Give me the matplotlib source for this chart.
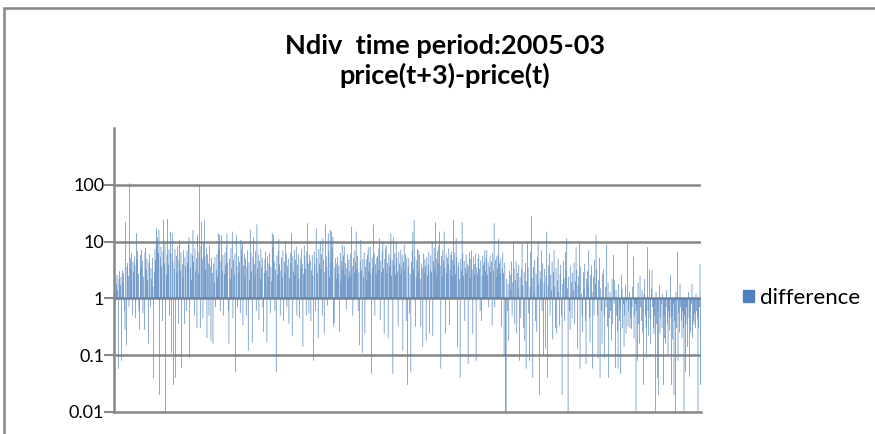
import matplotlib.pyplot as plt
import numpy as np
from matplotlib.patches import Patch, Rectangle

# values, left to right, in six chunks
part1 = [1.5, 2.1, 0.8, 1.8, 2.6, 1.4, 0.058, 2.2, 3.0, 1.7,
         2.4, 0.08, 3.1, 1.9, 2.8, 0.6, 0.28, 22, 0.15, 3.6,
         4.2, 2.5, 0.7, 107, 5.1, 3.3, 6.2, 0.5, 4.4, 2.9,
         5.5, 3.8, 0.45, 14, 4.9, 6.8, 2.7, 0.6, 0.28, 5.8,
         3.5, 7.1, 4.6, 0.55, 2.4, 0.28, 6.4, 7.8, 3.2, 5.0,
         2.1, 0.16, 4.3, 6.0, 0.7, 3.4, 2.2, 5.2, 1.6, 0.04,
         3.0, 7.5, 4.8, 17, 9.2, 12, 6.3, 16, 0.02, 5.4,
         8.1, 3.6, 0.4, 6.7, 24, 4.1, 9.8, 0.01, 2.6, 5.9,
         25, 3.9, 7.2, 0.5, 15, 6.1, 0.11, 14, 4.5, 0.03,
         3.3, 7.4, 0.04, 5.6, 2.8, 8.3, 0.35, 4.7, 10.7, 3.1,
         6.5, 0.06, 4.0, 2.4, 7.0, 0.35, 5.3, 3.7, 0.6, 6.9,
         4.2, 8.8, 12, 0.09, 3.5, 6.2, 2.1, 5.7, 16, 4.4,
         0.5, 7.6, 3.0, 5.1, 0.3, 13, 2.7, 6.6, 100, 0.3,
         8.4, 22, 4.9, 0.45, 9.1, 24, 5.5, 3.2, 7.9, 0.2,
         6.0, 4.1, 0.5, 8.6, 3.6, 0.18, 5.2]
part2 = [2.8, 0.16, 4.1, 1.9, 5.3, 0.7, 3.2, 6.0, 2.4, 14,
         7.2, 13, 0.6, 4.5, 13, 3.1, 5.8, 0.5, 2.7, 6.4,
         3.9, 8.0, 14, 4.2, 0.6, 0.16, 5.0, 2.2, 7.7, 3.4,
         15, 0.45, 4.8, 2.6, 6.1, 0.05, 13, 3.7, 0.7, 5.6,
         2.9, 4.4, 0.55, 10.7, 7.3, 10, 0.34, 3.8, 6.2, 2.3,
         5.1, 0.5, 3.6, 7.0, 0.12, 4.3, 2.1, 16, 6.5, 3.0,
         0.17, 5.4, 12, 4.0, 2.5, 6.8, 0.6, 20, 3.3, 5.9,
         0.42, 4.6, 2.2, 7.4, 3.5, 5.2, 0.7, 0.26, 2.8, 4.9,
         6.6, 3.1, 0.17, 5.5, 2.4, 4.1, 6.3, 0.55, 3.6, 2.0,
         14, 7.8, 13, 4.4, 0.6, 3.2, 0.05, 5.7, 2.6, 6.9,
         11, 4.0, 0.5, 3.1, 5.3, 2.4, 7.0, 0.4, 4.5, 2.8,
         10, 6.1, 0.7, 3.7, 5.0, 0.36, 2.3, 6.4, 4.2, 14,
         0.22, 5.5, 3.0, 7.1, 2.6, 4.8, 8.2, 0.5, 3.9, 6.0,
         2.2, 0.45, 5.1, 3.4, 7.5, 4.0, 0.14, 2.7, 8.6, 5.6,
         3.3, 0.5, 6.8, 21, 4.1, 0.54, 5.9]
part3 = [4.6, 0.4, 3.1, 5.8, 2.5, 0.08, 6.7, 3.9, 0.6, 17,
         5.2, 2.8, 0.2, 7.4, 4.1, 10, 3.3, 6.0, 0.5, 11.5,
         4.7, 0.24, 2.9, 20, 5.5, 3.6, 0.75, 14, 6.8, 2.4,
         16, 4.3, 15, 7.9, 12, 0.32, 0.37, 3.5, 5.1, 2.2,
         4.1, 5.4, 2.7, 3.8, 0.26, 6.3, 2.0, 4.6, 8.8, 3.2,
         5.7, 8.3, 2.6, 4.2, 0.65, 3.4, 5.9, 2.3, 4.8, 3.0,
         6.1, 2.5, 18, 3.7, 0.5, 5.2, 2.8, 7.0, 4.4, 15,
         3.3, 5.6, 0.6, 2.9, 0.15, 4.5, 10.7, 3.1, 0.11, 5.0,
         2.4, 6.4, 0.24, 3.6, 4.9, 2.1, 5.8, 8.0, 3.0, 4.3,
         8.1, 2.7, 0.047, 5.3, 3.5, 20, 6.2, 0.5, 4.0, 2.6,
         5.1, 5.6, 3.2, 7.3, 11.5, 0.42, 4.6, 2.9, 6.9, 9.5,
         3.4, 0.24, 5.0, 7.6, 8.6, 2.8, 4.2, 0.2, 6.1, 3.7,
         5.4, 14, 2.5, 4.7, 0.047, 12, 3.9, 6.3, 2.6, 10,
         5.2, 3.0, 0.32, 6.6, 4.1, 2.7, 7.2, 3.5, 5.8, 0.12,
         4.4, 8.9, 3.1, 6.0, 0.4, 5.1, 0.03]
part4 = [3.6, 5.1, 0.54, 2.7, 0.05, 4.4, 6.8, 15, 3.2, 24,
         5.5, 0.32, 2.4, 4.7, 7.3, 7.0, 3.0, 5.9, 2.2, 0.32,
         4.1, 3.4, 0.14, 6.2, 2.8, 4.9, 3.7, 0.18, 5.3, 2.5,
         4.0, 6.6, 0.24, 3.1, 5.7, 2.9, 10, 0.22, 4.5, 7.7,
         3.3, 22, 5.0, 2.6, 6.9, 4.2, 8.5, 15, 3.8, 0.058,
         5.6, 2.4, 7.1, 4.6, 15, 3.5, 0.24, 6.0, 2.8, 5.2,
         4.0, 7.6, 0.34, 3.2, 5.8, 6.7, 2.5, 4.8, 24, 3.9,
         6.4, 2.7, 11.5, 5.3, 0.14, 3.6, 4.3, 2.2, 0.04, 5.0,
         3.1, 22, 6.2, 2.5, 4.6, 0.4, 3.4, 5.9, 2.8, 4.1,
         0.07, 3.7, 6.5, 2.3, 4.9, 7.0, 3.2, 0.24, 5.4, 2.6,
         4.0, 6.1, 0.08, 3.5, 2.7, 5.1, 6.0, 3.3, 0.6, 4.7,
         0.4, 2.5, 5.6, 3.8, 4.4, 6.9, 3.0, 5.2, 7.1, 2.6,
         4.3, 0.7, 3.6, 5.7, 2.9, 4.5, 0.34, 6.3, 3.1, 21,
         0.7, 4.8, 2.4, 5.5, 3.4, 6.0, 11, 4.1, 2.7, 5.0,
         0.32, 3.3, 6.4, 2.8, 0.1, 4.2, 0.01]
part5 = [0.01, 2.2, 0.6, 1.8, 0.18, 3.1, 1.4, 2.6, 4.5, 0.5,
         1.9, 10, 3.4, 0.35, 2.1, 4.6, 0.24, 2.8, 1.5, 3.9,
         0.08, 2.4, 0.45, 3.2, 9.4, 1.7, 0.3, 2.9, 0.18, 4.2,
         0.058, 2.0, 10, 3.5, 0.55, 0.08, 1.6, 6.5, 28, 2.3,
         0.04, 3.6, 1.3, 4.8, 0.4, 2.7, 0.26, 5.3, 10, 1.8,
         0.02, 3.0, 2.2, 7.0, 0.6, 4.1, 0.1, 1.9, 3.3, 0.13,
         2.5, 15, 0.04, 1.7, 3.8, 6.2, 0.5, 2.6, 1.4, 4.4,
         0.19, 2.9, 7.1, 1.6, 0.3, 3.4, 0.24, 2.1, 5.0, 1.3,
         0.33, 2.7, 3.9, 0.5, 0.02, 1.8, 4.6, 2.3, 0.4, 6.6,
         3.1, 11.5, 1.5, 0.01, 2.4, 0.6, 0.28, 3.7, 1.9, 0.45,
         2.8, 1.4, 4.3, 0.35, 2.0, 8.0, 3.2, 0.13, 1.7, 2.5,
         10, 0.058, 3.6, 1.2, 0.5, 0.26, 2.9, 1.5, 4.1, 0.4,
         0.07, 2.2, 3.0, 1.6, 7.0, 0.45, 0.17, 2.6, 3.8, 1.3,
         0.058, 2.4, 0.5, 4.7, 1.8, 13, 3.3, 0.5, 0.09, 2.1,
         5.2, 0.04, 1.5, 0.6, 0.16, 2.7, 3.2]
part6 = [0.5, 0.09, 1.6, 0.7, 8.8, 0.32, 1.9, 0.04, 0.45, 1.3,
         0.6, 0.18, 2.2, 0.35, 5.8, 0.8, 2.1, 0.06, 1.4, 0.5,
         0.27, 0.058, 1.8, 0.4, 0.7, 0.047, 2.6, 1.5, 0.3, 0.8,
         0.14, 0.5, 1.7, 0.24, 0.9, 9.4, 0.32, 0.6, 1.3, 0.3,
         0.45, 0.29, 0.7, 1.6, 5.4, 0.2, 0.5, 0.8, 0.01, 0.6,
         0.08, 1.9, 0.35, 0.16, 2.5, 0.7, 0.4, 1.4, 0.25, 0.03,
         1.2, 2.2, 0.5, 0.3, 0.09, 8.0, 0.6, 0.22, 3.2, 0.45,
         0.16, 1.5, 3.1, 0.7, 0.3, 0.24, 0.5, 0.01, 1.3, 0.35,
         0.04, 0.6, 0.02, 1.7, 0.24, 0.45, 0.8, 0.3, 1.2, 0.03,
         0.5, 0.2, 0.16, 0.7, 1.4, 0.35, 0.1, 0.6, 0.27, 0.45,
         2.6, 0.03, 0.5, 0.19, 0.8, 0.02, 0.4, 0.01, 1.3, 0.3,
         6.6, 0.08, 0.55, 0.25, 1.8, 0.7, 0.4, 0.2, 0.6, 0.3,
         0.01, 0.5, 0.05, 0.35, 0.7, 0.14, 0.45, 1.3, 0.042, 0.6,
         0.25, 0.8, 1.8, 0.2, 0.4, 0.35, 0.55, 0.3, 1.2, 0.6,
         0.45, 0.01, 0.3, 0.7, 4.0, 0.03]

tick_values = [0.01, 0.1, 1, 10, 100]
tick_labels = ["0.01", "0.1", "1", "10", "100"]
title = "Ndiv  time period:2005-03\nprice(t+3)-price(t)"
series_name = "difference"

BLUE = "#4F81BD"
GRAY = "#878787"

plt.rcParams["font.family"] = ["Lato", "DejaVu Sans"]

values = np.array(part1 + part2 + part3 + part4 + part5 + part6)
x = np.arange(len(values))

fig = plt.figure(figsize=(8.75, 4.34), dpi=100)
ax = fig.add_axes([114 / 875, 22 / 434, 587 / 875, 284 / 434])

# Excel draws the bars from the axis crossing at 1
bars = ax.bar(x, values - 1, bottom=1, width=1.0, color=BLUE, linewidth=0)
for b in bars:
    b.set_snap(False)

ax.set_yscale("log")
ax.set_ylim(0.01, 1000)
ax.set_xlim(-0.5, len(values) - 0.5)
ax.set_yticks(tick_values)
ax.set_yticklabels(tick_labels)
ax.minorticks_off()
ax.set_xticks([])
ax.tick_params(axis="y", length=7, width=1.5, color=GRAY, labelsize=13, pad=0)

for v in tick_values[1:]:
    ax.axhline(v, color=GRAY, lw=1.8, zorder=0.5)

for side in ["top", "right"]:
    ax.spines[side].set_visible(False)
for side in ["left", "bottom"]:
    ax.spines[side].set_color(GRAY)
    ax.spines[side].set_linewidth(1.8)

fig.text(445 / 875, 1 - 61 / 434, title, ha="center", va="center",
         fontsize=19.5, fontweight="bold", linespacing=1.25)

ax.legend(handles=[Patch(color=BLUE, label=series_name)], loc="center left",
          bbox_to_anchor=(723 / 875, 1 - 298 / 434), bbox_transform=fig.transFigure,
          frameon=False, fontsize=16, handlelength=0.5, handleheight=0.5,
          handletextpad=0.25)

fig.patches.append(Rectangle((4 / 875, -0.2), 1.2, 1 - 8 / 434 + 0.2,
                             transform=fig.transFigure, fill=False,
                             edgecolor=GRAY, lw=1.8))

fig.savefig("out.png", dpi=100)
